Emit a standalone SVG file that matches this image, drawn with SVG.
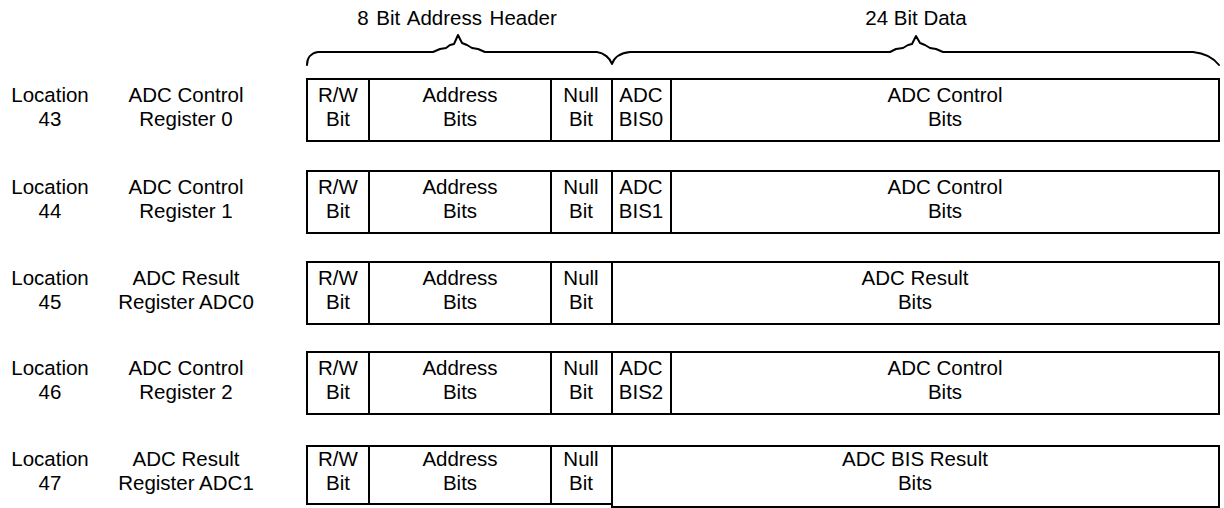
<svg xmlns="http://www.w3.org/2000/svg" width="1224" height="508" viewBox="0 0 1224 508">
<style>
text{font-family:"Liberation Sans",Arial,sans-serif;font-size:20.5px;fill:#000;text-anchor:middle}
.b{fill:#fff;stroke:#000;stroke-width:2}
.l{fill:none;stroke:#000;stroke-width:2}
.br{fill:none;stroke:#000;stroke-width:2;stroke-linejoin:round;stroke-linecap:round}
</style>
<rect width="1224" height="508" fill="#fff"/>
<g id="header">
<text x="457" y="25" word-spacing="2">8 Bit Address Header</text>
<text x="916" y="25">24 Bit Data</text>
<path class="br" d="M307,65 C307,58 311,53 318,52 L433,52 L440,49 L446,48 L450,45 L454,44 L458,35 L462,43 L467,45 L472,48 L478,49 L485,52 L597,52 C604,53 610,58 612,64 C614,58 620,53 630,52 L890,52 L896,49 L903,48 L908,45 L912,44 L916,36 L920,43 L925,45 L930,48 L936,49 L943,52 L1193,52 C1203,53 1212,56 1219,65"/>
</g>
<g id="row1">
<text x="50" y="102">Location</text><text x="50" y="126">43</text>
<text x="186" y="102">ADC Control</text><text x="186" y="126">Register 0</text>
<rect class="b" x="307" y="79" width="912" height="62"/>
<path class="l" d="M369,79V141M551,79V141M612,79V141M671,79V141"/>
<text x="338" y="102">R/W</text><text x="338" y="126">Bit</text>
<text x="460" y="102">Address</text><text x="460" y="126">Bits</text>
<text x="581" y="102">Null</text><text x="581" y="126">Bit</text>
<text x="641" y="102">ADC</text><text x="641" y="126">BIS0</text>
<text x="945" y="102">ADC Control</text><text x="945" y="126">Bits</text>
</g>
<g id="row2">
<text x="50" y="194">Location</text><text x="50" y="218">44</text>
<text x="186" y="194">ADC Control</text><text x="186" y="218">Register 1</text>
<rect class="b" x="307" y="171" width="912" height="62"/>
<path class="l" d="M369,171V233M551,171V233M612,171V233M671,171V233"/>
<text x="338" y="194">R/W</text><text x="338" y="218">Bit</text>
<text x="460" y="194">Address</text><text x="460" y="218">Bits</text>
<text x="581" y="194">Null</text><text x="581" y="218">Bit</text>
<text x="641" y="194">ADC</text><text x="641" y="218">BIS1</text>
<text x="945" y="194">ADC Control</text><text x="945" y="218">Bits</text>
</g>
<g id="row3">
<text x="50" y="285">Location</text><text x="50" y="309">45</text>
<text x="186" y="285">ADC Result</text><text x="186" y="309">Register ADC0</text>
<rect class="b" x="307" y="262" width="912" height="62"/>
<path class="l" d="M369,262V324M551,262V324M612,262V324"/>
<text x="338" y="285">R/W</text><text x="338" y="309">Bit</text>
<text x="460" y="285">Address</text><text x="460" y="309">Bits</text>
<text x="581" y="285">Null</text><text x="581" y="309">Bit</text>
<text x="915" y="285">ADC Result</text><text x="915" y="309">Bits</text>
</g>
<g id="row4">
<text x="50" y="375">Location</text><text x="50" y="399">46</text>
<text x="186" y="375">ADC Control</text><text x="186" y="399">Register 2</text>
<rect class="b" x="307" y="352" width="912" height="62"/>
<path class="l" d="M369,352V414M551,352V414M612,352V414M671,352V414"/>
<text x="338" y="375">R/W</text><text x="338" y="399">Bit</text>
<text x="460" y="375">Address</text><text x="460" y="399">Bits</text>
<text x="581" y="375">Null</text><text x="581" y="399">Bit</text>
<text x="641" y="375">ADC</text><text x="641" y="399">BIS2</text>
<text x="945" y="375">ADC Control</text><text x="945" y="399">Bits</text>
</g>
<g id="row5">
<text x="50" y="466">Location</text><text x="50" y="490">47</text>
<text x="186" y="466">ADC Result</text><text x="186" y="490">Register ADC1</text>
<rect class="b" x="307" y="446" width="305" height="58"/>
<rect class="b" x="612" y="446" width="607" height="61"/>
<path class="l" d="M369,446V504M551,446V504"/>
<text x="338" y="466">R/W</text><text x="338" y="490">Bit</text>
<text x="460" y="466">Address</text><text x="460" y="490">Bits</text>
<text x="581" y="466">Null</text><text x="581" y="490">Bit</text>
<text x="915" y="466">ADC BIS Result</text><text x="915" y="490">Bits</text>
</g>
</svg>
